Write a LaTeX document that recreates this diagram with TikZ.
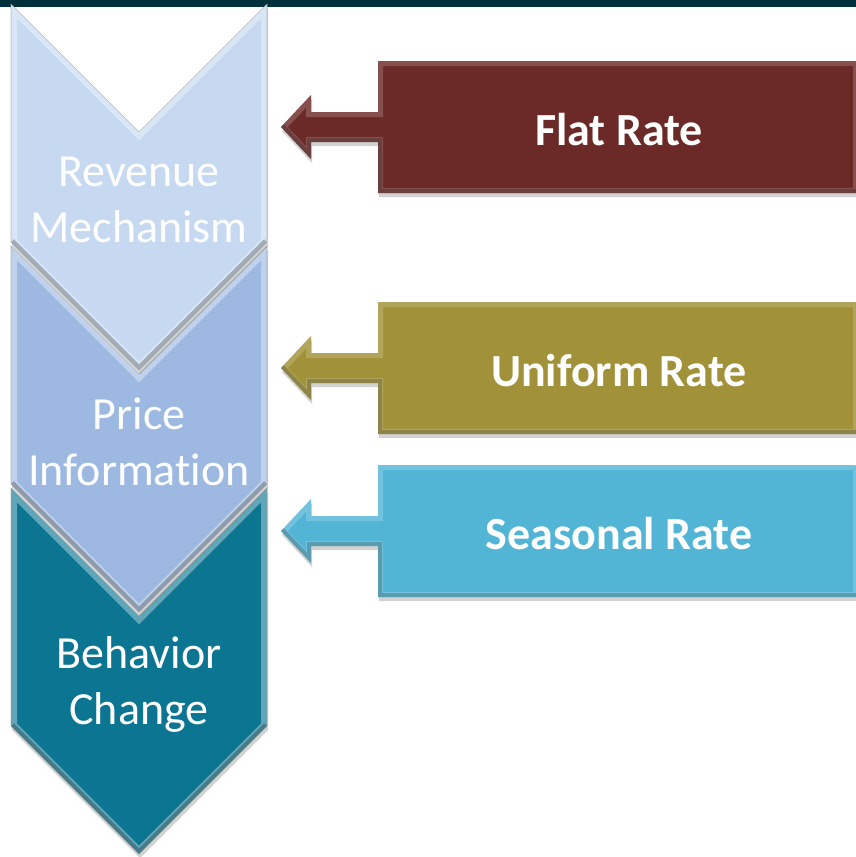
\documentclass[tikz,border=0pt]{standalone}
\usepackage{fontspec}
\setmainfont{Carlito}[Ligatures=NoCommon]
\usetikzlibrary{shadows}

\definecolor{topbar}{HTML}{00313D}
\definecolor{revenue}{HTML}{C6D9F1}
\definecolor{price}{HTML}{9DB9E1}
\definecolor{behavior}{HTML}{0C7592}
\definecolor{flat}{HTML}{6B2A28}
\definecolor{uniform}{HTML}{A19239}
\definecolor{seasonal}{HTML}{52B5D6}

% outlines, #1 = top of the chevron / middle of the box
\newcommand{\chevron}[1]{(11,#1) -- (139,#1+128) -- (267,#1) -- (267,#1+238) -- (139,#1+366) -- (11,#1+238) -- cycle}
\newcommand{\ratebox}[1]{(378,#1-66) -- (858,#1-66) -- (858,#1+66) -- (378,#1+66) -- (378,#1+15) -- (311,#1+15) -- (311,#1+32) -- (281,#1) -- (311,#1-32) -- (311,#1-15) -- (378,#1-15) -- cycle}

\tikzset{
  chevtext/.style={text=white, align=center, inner sep=0pt, font=\fontsize{46}{56}\selectfont},
  ratetext/.style={text=white, inner sep=0pt, font=\bfseries\fontsize{46}{54}\selectfont},
  shade/.style={drop shadow={opacity=.35, shadow xshift=1pt, shadow yshift=-4pt}},
}

\begin{document}
\begin{tikzpicture}[x=1pt, y=-1pt]
\useasboundingbox (0,0) rectangle (856,857);
\fill[white] (0,0) rectangle (856,857);
\fill[topbar] (0,0) rectangle (856,7);

% chevrons, lowest first so the upper one lies on top
\foreach \y/\col/\txt/\nm in {488/behavior/{Behavior\\Change}/behav,
                              246/price/{Price\\Information}/price,
                              4/revenue/{Revenue\\Mechanism}/rev} {
  \path[shade, fill=\col] \chevron{\y};
  \begin{scope}
    \clip \chevron{\y};
    \draw[white, opacity=.35, line width=12pt] \chevron{\y};
    \draw[black, opacity=.25, line width=8pt] (11,\y+238) -- (139,\y+366) -- (267,\y+238);
  \end{scope}
  \draw[black!40, opacity=.6, line width=.6pt] \chevron{\y};
  \node[chevtext] (\nm) at (139,\y+196) {\txt};
}

% rate boxes with their arrows
\foreach \y/\col/\txt/\nm in {127/flat/Flat Rate/flatrate,
                              368/uniform/Uniform Rate/unirate,
                              531/seasonal/Seasonal Rate/searate} {
  \path[shade, fill=\col] \ratebox{\y};
  \begin{scope}
    \clip \ratebox{\y};
    \draw[white, opacity=.18, line width=10pt] \ratebox{\y};
    \draw[black, opacity=.2, line width=8pt] (281,\y) -- (311,\y+32) -- (311,\y+15) -- (378,\y+15) -- (378,\y+66) -- (858,\y+66);
  \end{scope}
  \node[ratetext] (\nm) at (619,\y+3) {\txt};
}
\end{tikzpicture}
\end{document}
